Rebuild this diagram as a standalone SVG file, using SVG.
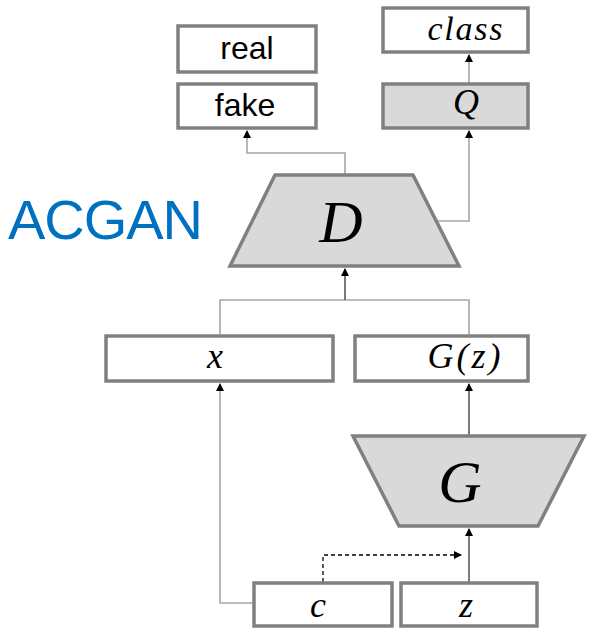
<svg xmlns="http://www.w3.org/2000/svg" width="590" height="632" viewBox="0 0 590 632">
<defs>
<marker id="arr" markerUnits="userSpaceOnUse" markerWidth="8" markerHeight="8" refX="7" refY="4" orient="auto">
<path d="M0,0 L8,4 L0,8 z" fill="#000"/>
</marker>
<style>
.box{fill:#fff;stroke:#808080;stroke-width:3.5}
.shade{fill:#d9d9d9;stroke:#808080;stroke-width:3.5}
.lt{fill:none;stroke:#a6a6a6;stroke-width:1.6}
.dk{fill:none;stroke:#595959;stroke-width:1.6}
.dash{fill:none;stroke:#000;stroke-width:1.3;stroke-dasharray:4 3}
.sans{font-family:"Liberation Sans",Arial,sans-serif;fill:#000;text-anchor:middle}
.math{font-family:"Liberation Serif","Times New Roman",serif;font-style:italic;fill:#000;text-anchor:middle}
</style>
</defs>
<rect width="590" height="632" fill="#fff"/>
<text x="8" y="239" font-family="Liberation Sans, Arial, sans-serif" font-size="56" fill="#0070C0" textLength="195">ACGAN</text>
<g id="connectors">
<path class="lt" d="M345,174 V153 H247 V131" marker-end="url(#arr)"/>
<path class="lt" d="M437,221 H469 V131" marker-end="url(#arr)"/>
<path class="lt" d="M469,83 V55" marker-end="url(#arr)"/>
<path class="lt" d="M220,334 V300 H469 V334"/>
<path class="dk" d="M345,300 V269" marker-end="url(#arr)"/>
<path class="dk" d="M469,435 V384" marker-end="url(#arr)"/>
<path class="dk" d="M469,582 V529" marker-end="url(#arr)"/>
<path class="lt" d="M253,603 H220 V384" marker-end="url(#arr)"/>
<path class="dash" d="M323,582 V555 H461" marker-end="url(#arr)"/>
</g>
<g id="real">
<rect class="box" x="178" y="26" width="138" height="46"/>
<text class="sans" x="247" y="59" font-size="32">real</text>
</g>
<g id="fake">
<rect class="box" x="178" y="84" width="138" height="44"/>
<text class="sans" x="245" y="116" font-size="32">fake</text>
</g>
<g id="class">
<rect class="box" x="383" y="8" width="145" height="44"/>
<text class="math" x="465" y="40" font-size="34" textLength="75">class</text>
</g>
<g id="Q">
<rect class="shade" x="383" y="84" width="145" height="44"/>
<text class="math" x="466" y="114" font-size="36">Q</text>
</g>
<g id="D">
<polygon class="shade" points="275,175 413,175 459,266 230,266"/>
<text class="math" x="341" y="242" font-size="60">D</text>
</g>
<g id="x">
<rect class="box" x="106" y="336" width="227" height="45"/>
<text class="math" x="215" y="368" font-size="36">x</text>
</g>
<g id="Gz">
<rect class="box" x="355" y="336" width="173" height="45"/>
<text class="math" x="464" y="368" font-size="36" textLength="73">G(z)</text>
</g>
<g id="G">
<polygon class="shade" points="353,436 584,436 538,526 399,526"/>
<text class="math" x="460" y="502" font-size="60">G</text>
</g>
<g id="c">
<rect class="box" x="254" y="583" width="138" height="43"/>
<text class="math" x="318" y="617" font-size="36">c</text>
</g>
<g id="z">
<rect class="box" x="401" y="583" width="136" height="43"/>
<text class="math" x="466" y="617" font-size="36">z</text>
</g>
</svg>
